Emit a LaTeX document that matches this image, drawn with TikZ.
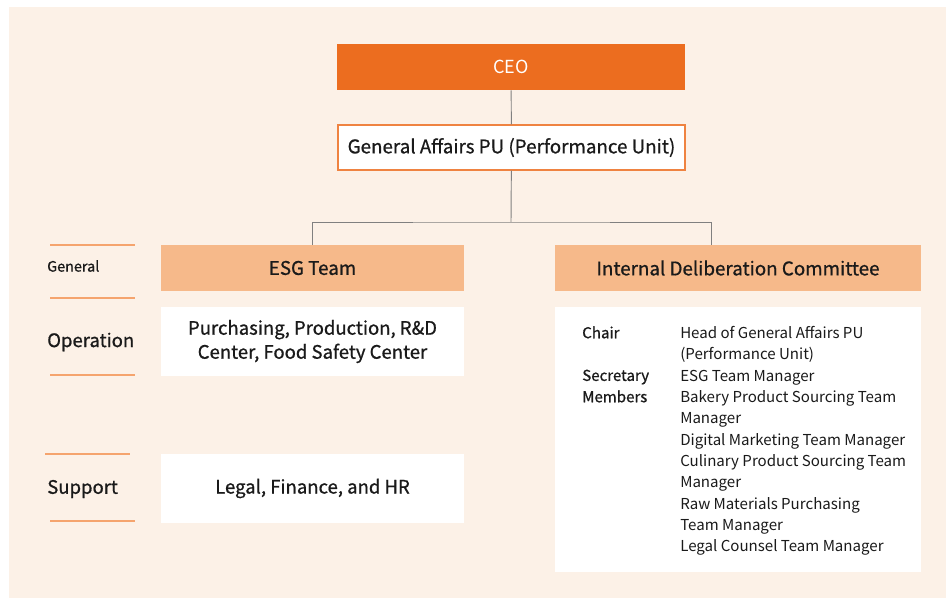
\documentclass[tikz,border=0pt]{standalone}
\usepackage{fontspec}
\setmainfont{Noto Sans CJK KR}
\newfontfamily\medfont{Noto Sans CJK KR}[FakeBold=0.8]
\definecolor{paper}{HTML}{FCF1E7}
\definecolor{ceoorange}{HTML}{EC6D1F}
\definecolor{teamfill}{HTML}{F6B98A}
\definecolor{rulecol}{HTML}{F5A46E}
\definecolor{linkgray}{HTML}{808080}
\definecolor{inkcol}{HTML}{1A1A1A}
\tikzset{
  ceobox/.style={fill=ceoorange,text=white,minimum width=348*0.75pt,minimum height=46*0.75pt,font=\fontsize{13.5}{16}\selectfont},
  pubox/.style={fill=white,draw=ceoorange!85,line width=0.9pt,minimum width=347*0.75pt,minimum height=45*0.75pt,text=inkcol,font=\medfont\fontsize{14.1}{16}\selectfont},
  teambox/.style={fill=teamfill,minimum height=46*0.75pt,text=inkcol,font=\medfont\fontsize{14.1}{16}\selectfont},
  unitbox/.style={fill=white,minimum width=303*0.75pt,align=center,text=inkcol,font=\medfont\fontsize{13.9}{18}\selectfont},
  rowlabel/.style={anchor=west,text=inkcol,inner sep=0pt},
  rowline/.style={draw=rulecol,line width=1.1pt},
  link/.style={draw=linkgray,line width=0.7pt},
  memtext/.style={anchor=north west,align=left,inner sep=0pt,text=inkcol,font=\fontsize{11.3}{16}\selectfont},
}
\begin{document}
\begin{tikzpicture}[x=0.75pt,y=-0.75pt]
\useasboundingbox (0,0) rectangle (946,598);
\fill[paper] (9,7) rectangle (946,598);

% top of the chart
\node[ceobox] (ceo) at (511,67) {CEO};
\node[pubox] (pu) at (511.5,147.5) {General Affairs PU (Performance Unit)};

% two branches
\node[teambox,minimum width=303*0.75pt] (esg) at (312.5,268) {ESG Team};
\node[teambox,minimum width=366*0.75pt] (idc) at (738,268) {Internal Deliberation Committee};

\node[unitbox,minimum height=69*0.75pt] (oper) at (312.5,341.5) {Purchasing, Production, R\&D\\Center, Food Safety Center};
\node[unitbox,minimum height=69*0.75pt] (supp) at (312.5,488.5) {Legal, Finance, and HR};
\node[fill=white,minimum width=366*0.75pt,minimum height=265*0.75pt] (members) at (738,439.5) {};

\node[memtext,font=\medfont\fontsize{11.3}{16}\selectfont] (roles) at (582,326) {Chair\\[16pt]Secretary\\Members};
\node[memtext] (names) at (680,326) {Head of General Affairs PU\\(Performance Unit)\\ESG Team Manager\\Bakery Product Sourcing Team\\Manager\\Digital Marketing Team Manager\\Culinary Product Sourcing Team\\Manager\\Raw Materials Purchasing\\Team Manager\\Legal Counsel Team Manager};

% connectors
\coordinate (split) at (511,222);
\draw[link] (ceo) -- (pu);
\draw[link] (pu) -- (split);
\draw[link] (esg.north) |- (split) -| ([xshift=-27*0.75pt]idc.north);

% row labels on the left
\draw[rowline] (50,245) -- (135,245);
\draw[rowline] (50,298) -- (135,298);
\draw[rowline] (50,375) -- (135,375);
\draw[rowline] (45,454) -- (130,454);
\draw[rowline] (50,521) -- (135,521);
\node[rowlabel,font=\medfont\fontsize{10.8}{12}\selectfont] (lgen) at (47,266) {General};
\node[rowlabel,font=\medfont\fontsize{13.9}{16}\selectfont] (lop) at (47,342) {Operation};
\node[rowlabel,font=\medfont\fontsize{13.9}{16}\selectfont] (lsup) at (47,489) {Support};
\end{tikzpicture}
\end{document}
